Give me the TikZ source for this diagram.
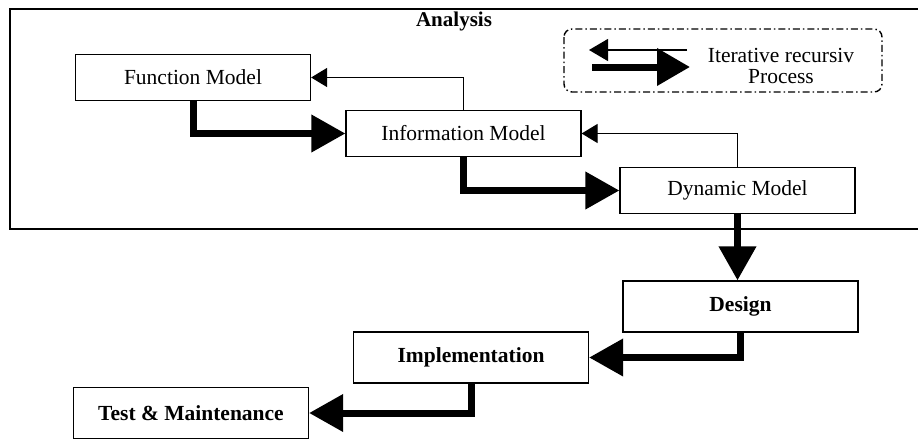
\documentclass[tikz,border=0pt]{standalone}
\usepackage{fontspec}
\setmainfont{Liberation Serif}
\usetikzlibrary{arrows.meta}

\begin{document}
\begin{tikzpicture}[x=1pt,y=1pt,yscale=-1,xscale=1,
  stage/.style={draw,line width=1.2pt,minimum width=235pt,minimum height=46pt,inner sep=0pt,font=\fontsize{21.5}{23}\selectfont},
  bigstage/.style={stage,minimum height=51pt,font=\fontsize{21.5}{23}\selectfont\bfseries},
  flow/.style={line width=7pt,-{Triangle[length=34pt,width=36pt]}},
  back/.style={line width=1.2pt,-{Triangle[length=16pt,width=19pt]}}]
\useasboundingbox (0,0) rectangle (918,439);

%Shape: Analysis frame
\draw [line width=1.4pt] (918,9) -- (10,9) -- (10,229) -- (918,229) ;
% Text Node
\node (ana) at (454,21) {\fontsize{21}{22}\selectfont\bfseries Analysis};

%Shape: Legend box
\draw [line width=1.4pt,rounded corners=8pt,dash pattern=on 7pt off 3pt on 1.5pt off 3pt] (564,29) rectangle (882,92) ;
\coordinate (lgA) at (687,50);
\coordinate (lgB) at (589,50);
\coordinate (lgC) at (592,67);
\coordinate (lgD) at (690,67);
\draw [line width=1.2pt,-{Triangle[length=19pt,width=22pt]}] (lgA) -- (lgB) ;
\draw [line width=7pt,-{Triangle[length=33pt,width=36pt]}] (lgC) -- (lgD) ;
% Text Node
\node (lgtxt) [align=center,font=\fontsize{21.5}{21.5}\selectfont] at (781,66) {Iterative recursiv\\ Process};

%Shape: Rectangle
\node [stage] (fm) at (193,77.5) {Function Model};
\node [stage] (im) at (463.5,133.5) {Information Model};
\node [stage] (dm) at (737.5,190.5) {Dynamic Model};
\node [bigstage] (ds) at (740.5,306.5) {Design};
\node [bigstage] (impl) at (471,357.5) {Implementation};
\node [bigstage] (tm) at (191,413) {Test \& Maintenance};

%Straight Lines
\draw [flow] (fm.south) |- (im.west) ;
\draw [flow] (im.south) |- (dm.west) ;
\draw [back] (im.north) |- (fm.east) ;
\draw [back] (dm.north) |- (im.east) ;
\draw [flow] (dm.south) -- (dm.south |- ds.north) ;
\draw [flow] (ds.south) |- (impl.east) ;
\draw [flow] (impl.south) |- (tm.east) ;

\end{tikzpicture}
\end{document}
